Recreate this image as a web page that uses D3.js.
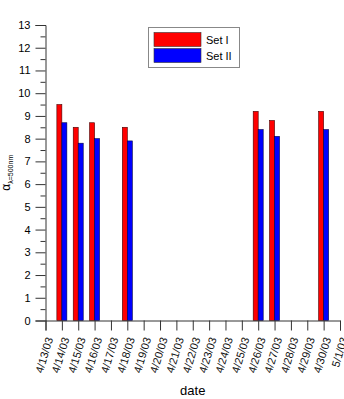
<!DOCTYPE html>
<html>
<head>
<meta charset="utf-8">
<script src="https://cdn.jsdelivr.net/npm/d3@7"></script>
<style>
  body { margin: 0; background: #fff; }
  text { font-family: "Liberation Sans", Arial, sans-serif; }
</style>
</head>
<body>
<script>
// Data
const dates = ["4/14/03", "4/15/03", "4/16/03", "4/18/03", "4/26/03", "4/27/03", "4/30/03"];
const setI = [9.5, 8.5, 8.7, 8.5, 9.2, 8.8, 9.2];
const setII = [8.7, 7.8, 8.0, 7.9, 8.4, 8.1, 8.4];
const seriesNames = ["Set I", "Set II"];
const seriesColors = ["#ff0000", "#0000ff"];
const yTicks = d3.range(0, 14);

const parse = d3.timeParse("%m/%d/%y");
const fmt = d => (d.getMonth() + 1) + "/" + d.getDate() + "/" + d3.timeFormat("%y")(d);

const W = 344, H = 399;
const margin = { left: 45.5, right: 340, top: 25, bottom: 320.5 };

const svg = d3.select("body").append("svg")
    .attr("width", W)
    .attr("height", H);

// Scales
const x = d3.scaleTime()
    .domain([parse("4/13/03"), parse("5/1/03")])
    .range([margin.left, margin.right]);

const y = d3.scaleLinear()
    .domain([0, 13])
    .range([margin.bottom, margin.top]);

const barW = 5;

// Bars
const rows = dates.map((d, i) => ({ date: parse(d), a: setI[i], b: setII[i] }));

svg.append("g").selectAll("rect")
    .data(rows)
    .enter().append("rect")
    .attr("x", d => x(d.date) - barW)
    .attr("y", d => y(d.a))
    .attr("width", barW)
    .attr("height", d => y(0) - y(d.a))
    .attr("fill", seriesColors[0])
    .attr("stroke", "#400")
    .attr("stroke-width", 0.6);

svg.append("g").selectAll("rect")
    .data(rows)
    .enter().append("rect")
    .attr("x", d => x(d.date))
    .attr("y", d => y(d.b))
    .attr("width", barW)
    .attr("height", d => y(0) - y(d.b))
    .attr("fill", seriesColors[1])
    .attr("stroke", "#004")
    .attr("stroke-width", 0.6);

// Y axis
const yAxis = svg.append("g")
    .attr("transform", "translate(" + margin.left + ",0)")
    .call(d3.axisLeft(y).tickValues(yTicks).tickSize(10).tickPadding(5).tickFormat(d3.format("d")));
yAxis.select(".domain").attr("stroke", "#333");
yAxis.selectAll(".tick line").attr("stroke", "#333");
yAxis.selectAll("text").style("font-size", "11px").attr("fill", "#000");

svg.append("g")
    .attr("transform", "translate(" + margin.left + ",0)")
    .call(d3.axisLeft(y).tickValues(d3.range(0.5, 13, 1)).tickSize(5).tickFormat(""))
    .call(g => g.select(".domain").remove())
    .selectAll("line").attr("stroke", "#333");

// X axis
const xAxis = svg.append("g")
    .attr("transform", "translate(0," + margin.bottom + ")")
    .call(d3.axisBottom(x).ticks(d3.timeDay.every(1)).tickSize(10).tickFormat(""));
xAxis.select(".domain").attr("stroke", "#333");
xAxis.selectAll(".tick line").attr("stroke", "#333");

const dayTicks = d3.timeDay.range(parse("4/13/03"), d3.timeDay.offset(parse("5/1/03"), 1));
svg.append("g").selectAll("text")
    .data(dayTicks)
    .enter().append("text")
    .attr("transform", d => "translate(" + (x(d) + 4) + "," + (margin.bottom + 17) + ") rotate(-73)")
    .attr("text-anchor", "end")
    .attr("dy", "0.35em")
    .style("font-size", "11px")
    .attr("fill", "#111")
    .text(fmt);

// Axis titles
svg.append("text")
    .attr("x", (margin.left + margin.right) / 2)
    .attr("y", 395)
    .attr("text-anchor", "middle")
    .style("font-size", "13px")
    .text("date");

const yLab = svg.append("text")
    .attr("transform", "translate(10," + ((margin.top + margin.bottom) / 2) + ") rotate(-90)")
    .attr("text-anchor", "middle");
yLab.append("tspan").style("font-size", "12px").text("α");
yLab.append("tspan").attr("dy", 3).style("font-size", "7px").text("λ=500nm");

// Legend
const legend = svg.append("g");
legend.append("rect")
    .attr("x", 148.5).attr("y", 27.5)
    .attr("width", 91).attr("height", 40)
    .attr("fill", "#fff").attr("stroke", "#888");

seriesNames.forEach((name, i) => {
    legend.append("rect")
        .attr("x", 154).attr("y", 32.5 + i * 16)
        .attr("width", 47).attr("height", 14)
        .attr("fill", seriesColors[i])
        .attr("stroke", "#333").attr("stroke-width", 0.6);
    legend.append("text")
        .attr("x", 206).attr("y", 44 + i * 16)
        .style("font-size", "11px")
        .text(name);
});
</script>
</body>
</html>
